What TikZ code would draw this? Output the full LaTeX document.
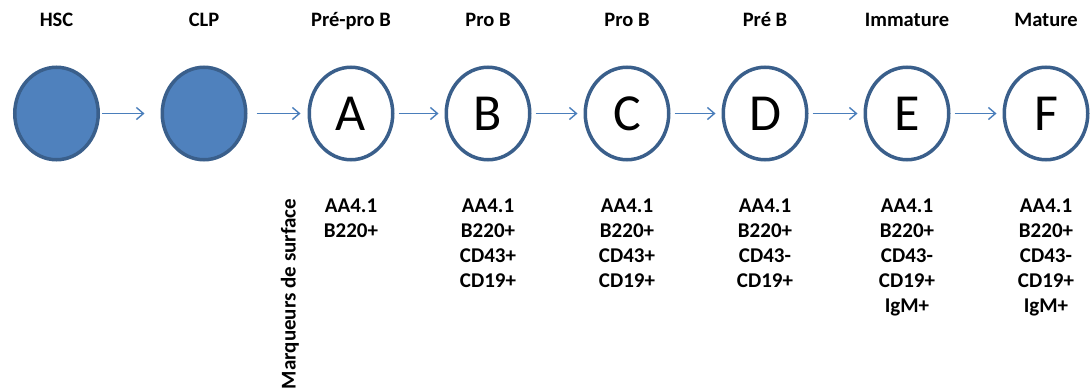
\documentclass[tikz,border=0pt]{standalone}
\usepackage{fontspec}
\setmainfont{Carlito}
\usetikzlibrary{arrows.meta,shapes.geometric}
\definecolor{cellfill}{HTML}{4F81BD}
\definecolor{cellrim}{HTML}{3A5F8B}
\definecolor{arrowblue}{HTML}{4A7EBB}
\begin{document}
\begin{tikzpicture}[x=1pt,y=-1pt,
  cell/.style={ellipse, draw=cellrim, line width=3.5pt, minimum width=83.5pt,
    minimum height=92.5pt, inner sep=0pt, font=\fontsize{52}{52}\selectfont},
  stem/.style={cell, fill=cellfill},
  stage/.style={cell, fill=white},
  title/.style={anchor=base, inner sep=0pt, font=\bfseries\fontsize{20.5}{20.5}\selectfont},
  markers/.style={anchor=north, inner sep=0pt, align=center,
    font=\bfseries\fontsize{21}{25}\selectfont},
  flow/.style={draw=arrowblue, line width=1.4pt,
    -{Straight Barb[length=7pt,width=12pt,line width=1.4pt]},
    shorten <=4pt, shorten >=6pt}]
\useasboundingbox (0,0) rectangle (1092,391);

% cells
\node[stem]  (hsc) at (56.5,113.5) {};
\node[stem]  (clp) at (204,113.5) {};
\node[stage] (a)   at (351,113.5) {A};
\node[stage] (b)   at (488,113.5) {B};
\node[stage] (c)   at (627,113.5) {C};
\node[stage] (d)   at (765,113.5) {D};
\node[stage] (e)   at (907,113.5) {E};
\node[stage] (f)   at (1046,113.5) {F};

% stage names
\node[title] (thsc) at (56.5,26) {HSC};
\node[title] (tclp) at (204,26) {CLP};
\node[title] (ta)   at (351,26) {Pré-pro B};
\node[title] (tb)   at (488,26) {Pro B};
\node[title] (tc)   at (627,26) {Pro B};
\node[title] (td)   at (765,26) {Pré B};
\node[title] (te)   at (907,26) {Immature};
\node[title] (tf)   at (1046,26) {Mature};

% progression
\draw[flow, shorten <=2pt, shorten >=16pt] (hsc) -- (clp);
\draw[flow, shorten <=9pt, shorten >=7pt] (clp) -- (a);
\draw[flow] (a) -- (b);
\draw[flow] (b) -- (c);
\draw[flow] (c) -- (d);
\draw[flow] (d) -- (e);
\draw[flow] (e) -- (f);

% surface markers
\node[rotate=90, inner sep=0pt, font=\bfseries\fontsize{21}{21}\selectfont]
  (label) at (290,294) {Marqueurs de surface};
\node[markers] (ma) at (351,199) {AA4.1\\B220+};
\node[markers] (mb) at (488,199) {AA4.1\\B220+\\CD43+\\CD19+};
\node[markers] (mc) at (627,199) {AA4.1\\B220+\\CD43+\\CD19+};
\node[markers] (md) at (765,199) {AA4.1\\B220+\\CD43-\\CD19+};
\node[markers] (me) at (907,199) {AA4.1\\B220+\\CD43-\\CD19+\\IgM+};
\node[markers] (mf) at (1046,199) {AA4.1\\B220+\\CD43-\\CD19+\\IgM+};
\end{tikzpicture}
\end{document}
